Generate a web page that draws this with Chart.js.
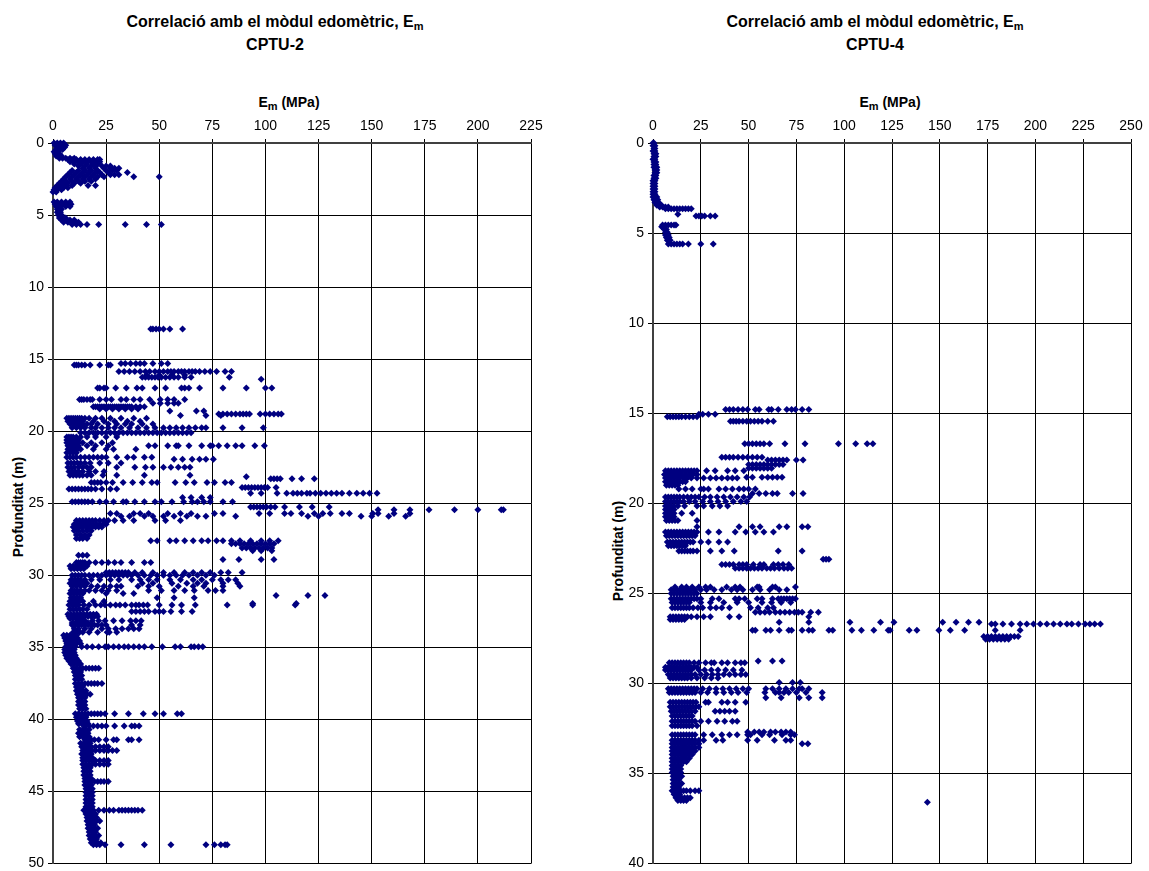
<!DOCTYPE html>
<html>
<head>
<meta charset="utf-8">
<script src="https://cdn.jsdelivr.net/npm/chart.js@4.4.0/dist/chart.umd.min.js"></script>
<style>
  body { margin: 0; background: #fff; width: 1149px; height: 871px; position: relative; overflow: hidden; }
  .narrow { font-family: 'Liberation Sans Narrow', 'Arial Narrow', 'Liberation Sans', sans-serif; font-weight: bold; color: #000; position: absolute; white-space: nowrap; }
  .ttl { top: 11px; width: 400px; text-align: center; font-size: 16px; line-height: 21px; }
  .xt { top: 94px; width: 200px; text-align: center; font-size: 14px; line-height: 16px; }
  .yt { width: 200px; text-align: center; font-size: 14px; line-height: 16px; transform: rotate(-90deg); }
  .sub { font-size: 11px; position: relative; top: 3px; }
  canvas { position: absolute; top: 0; }
</style>
</head>
<body>
<div class="narrow ttl" style="left:75px">Correlació amb el mòdul edomètric, E<span class="sub">m</span><br>CPTU-2</div>
<div class="narrow xt" style="left:189px">E<span class="sub">m</span> (MPa)</div>
<div class="narrow yt" style="left:-82px; top:499px">Profunditat (m)</div>
<canvas id="cptu2" width="575" height="876" style="left:0"></canvas>

<div class="narrow ttl" style="left:675px">Correlació amb el mòdul edomètric, E<span class="sub">m</span><br>CPTU-4</div>
<div class="narrow xt" style="left:790px">E<span class="sub">m</span> (MPa)</div>
<div class="narrow yt" style="left:518px; top:543px">Profunditat (m)</div>
<canvas id="cptu4" width="549" height="876" style="left:600px"></canvas>

<script>
// each row: depth (m) followed by the Em values (MPa) read at that depth
const cptu2Rows = [
  [0.0, 0.5, 2, 3.5, 5], [0.15, 1, 3, 5, 6], [0.3, 2, 4, 5.5], [0.45, 1.5, 3, 4.5],
  [0.6, 0.5, 1.5, 2.5], [0.75, 1, 2, 3], [0.9, 1.5, 2.5, 4], [1.05, 3, 4.5, 6, 8, 10],
  [1.15, 7, 9, 11, 13, 15, 17, 19, 21, 22], [1.3, 8, 10, 12, 14, 16, 18, 20, 22],
  [1.45, 10, 13, 16, 19, 21], [1.6, 12, 15, 18, 20, 23, 25, 27], [1.75, 14, 17, 20, 24, 27, 29, 31],
  [1.9, 9, 12, 15, 18, 21, 25, 28, 30], [2.05, 8, 11, 14, 17, 20, 22, 26, 35],
  [2.2, 7, 10, 13, 16, 19, 23, 27, 29, 31], [2.35, 6, 9, 12, 15, 18, 21, 24, 38, 50],
  [2.5, 5, 8, 11, 14, 17, 20], [2.65, 4, 6, 9, 12, 15, 18], [2.8, 3, 5, 7, 10, 13],
  [2.95, 2, 4, 6, 9, 16.5, 20], [3.1, 1, 3, 5, 7], [3.25, 0.5, 2, 4], [3.4, 0, 1.5],
  [4.1, 0.5, 2, 4, 6, 8], [4.25, 1, 3, 5, 7, 8.5], [4.4, 1.5, 3.5, 6, 8], [4.6, 2, 3, 4],
  [4.8, 2, 3.5], [5.0, 2.5, 4], [5.2, 3, 4.5, 6], [5.35, 4, 6, 8, 10], [5.5, 5, 7, 9, 11, 12],
  [5.65, 9, 11, 13, 16, 21.5, 34, 44, 51],
  [12.9, 46, 47, 48.5, 50, 52, 55, 61],
  [15.3, 32, 34, 36.5, 39, 41, 43, 47, 51, 54],
  [15.4, 10, 11, 12, 13.5, 15, 17.5, 22, 26, 27],
  [15.85, 31, 33.5, 36, 38.5, 41, 43.5, 45.5, 48, 50, 52, 54, 55.5, 57, 59, 60.5, 62, 64, 65.5, 67, 69, 71.5, 74, 77, 81, 84],
  [16.1, 44, 50, 56, 62],
  [16.25, 42, 43.5, 45, 46.5, 48, 49.5, 51, 53, 55, 57, 59, 62, 65, 83],
  [16.4, 98],
  [17.0, 21, 22, 24, 25, 29.5, 34.5, 39.5, 42, 48, 53, 60.5, 62, 64, 69, 80, 91, 100, 103],
  [17.8, 12.5, 13.5, 14.5, 16, 17.5, 18.5, 22, 25, 27.5, 32, 34.5, 38, 41, 45.5, 50.5, 54, 57, 62],
  [18.05, 47, 50.5, 54, 57, 59],
  [18.3, 19, 20, 21, 22, 23, 24, 25, 26, 27, 28, 29, 30, 31, 32, 33, 34, 35, 36, 37, 39, 41, 43],
  [18.45, 22, 25, 28, 31, 34, 37, 40],
  [18.6, 55, 67.5, 71],
  [18.8, 78, 80, 82, 84, 86, 88, 89.5, 91, 92.5, 97.5, 100, 102, 104, 106, 107.5],
  [18.9, 60, 72, 79],
  [19.1, 6.5, 7.5, 8.5, 9.5, 10.5, 11.5, 12.5, 13.5, 15, 17, 20, 23, 27, 32, 38, 44],
  [19.3, 7, 8, 9, 10, 11, 12, 13, 14, 19, 24, 29, 35, 41],
  [19.5, 8, 10, 12, 14, 16, 18, 21, 26, 30, 34, 37, 42, 47],
  [19.75, 9, 11, 13, 15, 18, 20, 23, 26, 29, 32, 36, 40, 44, 48, 52, 55, 58, 61, 64, 67, 70, 72, 80, 89, 99],
  [20.1, 13, 15, 17, 19, 21, 23, 25, 27, 29, 31, 33, 35, 37, 39, 41, 43, 45, 47, 49, 51, 53, 55, 57, 59, 61, 63, 65],
  [20.4, 6.5, 7.5, 8.5, 9.5, 11, 13, 16, 20, 25, 30],
  [20.6, 6.5, 8, 9.5, 11, 12],
  [20.8, 6.5, 7.5, 9, 10.5, 12, 14, 18, 23, 28],
  [21.0, 7, 8, 9.5, 11, 12, 16, 20, 26, 45, 48, 54, 58, 59, 64, 70, 74, 75, 78, 82, 86, 89, 95, 99.5],
  [21.25, 7, 8.5, 10, 11.5, 13, 19, 25, 28.5, 39],
  [21.5, 6.5, 8, 9.5, 11],
  [21.8, 6.5, 8, 9.5, 11, 13, 15, 17, 19, 21, 23, 25, 30, 35, 38, 43, 46.5],
  [21.95, 57, 61, 65.5, 69, 72, 75.5],
  [22.2, 7, 8.5, 10, 11.5, 13, 15, 17.5, 22, 26, 32],
  [22.5, 7, 8.5, 10, 12, 14, 16, 18, 30, 38.5, 43.5, 47, 52, 55.5, 59, 62, 64.5],
  [22.8, 7.5, 9, 10.5, 12, 14, 17, 20, 24],
  [23.05, 8, 9.5, 11, 12.5, 14, 16, 18, 23.5, 30, 43, 64.5],
  [23.15, 91],
  [23.3, 102.5, 104, 105.5, 107, 112.5, 117, 123],
  [23.55, 18, 19.5, 21, 22.5, 25, 28, 33, 37.5, 42, 46.5, 49, 57.5, 62.5, 66.5, 72.5, 76, 81, 84],
  [23.9, 89, 90.5, 92, 93.5, 95, 96.5, 98, 99.5, 101, 105],
  [24.0, 7.5, 9, 10.5, 12, 13.5, 15, 16.5, 18, 20, 23, 27, 30],
  [24.3, 93, 98, 105.5, 110, 113, 115, 117, 119.5, 121, 123.5, 126, 128.5, 131, 133.5, 136, 139.5, 143, 146, 149, 152.5],
  [24.6, 61, 65, 70, 74],
  [24.9, 9, 10.5, 12, 13.5, 15, 16.5, 18.5, 22, 25, 28.5, 33, 34.5, 38.5, 43, 48, 51, 56, 61.5, 65.5, 68, 71, 74, 80, 84.5],
  [25.25, 93, 94.5, 96, 97.5, 99, 100.5, 102.5, 104.5, 109, 116, 122, 130],
  [25.45, 153, 160.5, 168, 177, 189, 200, 211, 212],
  [25.7, 27, 30, 38, 41, 45, 54, 60, 65, 76, 80, 97, 102, 109, 112, 117, 123, 127, 130.5, 136, 139.5, 150.5, 153, 160.5, 168],
  [25.9, 32, 36, 43, 47, 52, 57, 63, 68, 72, 86, 120, 125, 145, 150, 158, 166],
  [26.2, 11, 12.5, 14, 15.5, 17, 18.5, 20, 22, 24, 26, 29, 33, 38, 48, 53, 60],
  [26.45, 10, 11.5, 13, 14.5, 16, 17.5, 19, 20.5, 22, 23.5, 25],
  [26.65, 9.5, 11, 12.5, 14, 15.5, 17, 18.5, 20, 21.5, 23],
  [26.9, 10, 12, 14, 16, 18], [27.2, 11, 13, 15, 17], [27.45, 11, 12.5, 14, 16],
  [27.6, 46, 49, 55, 58, 62, 66, 70, 73, 77, 80, 84, 88, 93, 98, 102, 106],
  [27.8, 84, 86, 88, 90, 92, 94, 96, 98, 100, 102, 104],
  [28.1, 89, 91, 93, 95, 97, 99, 101, 103],
  [28.3, 94, 98, 103], [28.6, 12, 14, 16], [28.9, 80, 87.5, 98, 104],
  [29.1, 11, 12, 13, 14, 15, 17, 20, 23, 26, 29, 32, 37, 43, 46],
  [29.35, 8, 9.5, 11, 12.5, 14, 16], [29.55, 8.5, 10, 11.5, 13, 14.5],
  [29.8, 25, 26.5, 28, 29.5, 31, 32.5, 34, 35.5, 38.5, 42, 47, 52, 57, 62, 66, 70, 74, 79, 82.5, 89],
  [30.0, 9, 10.5, 12, 13.5, 15, 17, 19, 21, 23, 25, 27, 29, 31, 33, 35, 37, 40, 43, 46, 49, 52, 55, 58, 61, 64, 68, 72, 76],
  [30.3, 8.5, 10, 11.5, 13, 15, 18, 22, 27, 31, 37, 41, 45, 49, 55, 60, 66, 70, 75, 79, 82.5, 86],
  [30.55, 8, 9.5, 11, 12.5, 14, 16, 42, 47, 56, 63, 68, 72, 80, 87],
  [30.75, 9, 11, 13, 15, 18, 21, 24, 27, 30, 32, 40, 45, 50, 59, 66, 71, 80, 88],
  [31.05, 8.5, 10, 11.5, 13, 15, 17, 20, 23, 26, 30, 45, 51, 57, 62, 66.5, 73, 76.5, 80],
  [31.25, 8, 9.5, 11, 12.5, 14, 25, 33, 38],
  [31.4, 105, 120, 128],
  [31.55, 8.5, 10, 11.5, 13, 49, 57, 66.5],
  [31.8, 8, 9.5, 11, 12.5, 14, 19, 24],
  [31.95, 94, 114.5],
  [32.05, 7.5, 9, 10.5, 12, 14.5, 17, 20, 22.5, 24.5, 27, 29.5, 31.5, 34, 37, 39, 40.5, 42.5, 44.5, 50, 56, 60.5, 67, 82, 94, 114],
  [32.35, 8, 9.5, 11, 12.5, 14, 16],
  [32.5, 37, 39, 41, 43, 45, 48, 50, 52, 55.5, 60.5, 65.5],
  [32.7, 7, 8.5, 10, 11.5, 13, 14.5, 16, 17.5, 19, 20.5],
  [32.85, 7.5, 9, 10.5, 12, 13.5, 15, 16.5, 18, 19.5, 21],
  [33.0, 8, 9.5, 11, 12.5, 14],
  [33.15, 12, 15, 18.5, 21.5, 24.5, 28.5, 32.5, 36.5, 39, 41.5],
  [33.3, 9, 10.5, 12, 13.5, 15, 16.5],
  [33.45, 9, 10.5, 12, 13.5, 15, 16.5, 18, 19.5, 21, 23, 25, 37, 41],
  [33.7, 10, 12, 15, 18, 23, 26, 29.5, 32.5, 35.5, 38, 40.5],
  [33.95, 9.5, 11, 12.5, 14, 17, 21, 25.5, 26.5, 30],
  [34.15, 5, 6.5, 8, 9.5, 11], [34.35, 5.5, 7, 8.5, 10, 11.5], [34.55, 6, 7.5, 9, 10.5, 12.5],
  [34.75, 6.5, 8, 9.5, 11, 13],
  [34.95, 6, 8, 10.5, 13.5, 16, 18.5, 21.5, 24.5, 26, 28.5, 31, 33.5, 35.5, 38, 40.5, 43, 46.5, 51.5, 57.5, 60, 65, 66.5, 68.5, 70.5],
  [35.15, 5.5, 7, 8.5, 10], [35.35, 5.5, 7, 8.5, 10], [35.55, 6, 7.5, 9, 10.5],
  [35.75, 6.5, 8, 9.5, 11], [35.95, 7.5, 9, 10.5, 12], [36.15, 8.5, 10, 11.5, 13],
  [36.45, 9.5, 11, 12.5, 14, 15.5, 17, 18.5, 20, 21.5],
  [36.7, 10, 11.5, 13], [36.95, 10.5, 12, 13.5], [37.2, 10.5, 12, 13.5],
  [37.5, 10.5, 12, 13.5, 15, 16.5, 18, 19.5, 21, 23],
  [37.75, 11, 12.5, 14], [38.0, 11, 12.5, 14, 15.5], [38.25, 11.5, 13, 14.5, 16, 17.5],
  [38.5, 12, 13.5, 15], [38.75, 12, 13.5, 15], [39.0, 12, 13.5, 15], [39.25, 12.5, 14, 15.5],
  [39.6, 10.5, 12, 13.5, 15, 16.5, 18, 19.5, 21, 22.5, 24.5, 29, 35.5, 42.5, 48, 52, 58.5, 60.5],
  [39.85, 11, 12.5, 14, 15.5], [40.1, 11.5, 13, 14.5, 16], [40.3, 12, 13.5, 15, 16.5],
  [40.45, 15, 17, 19, 21, 23, 25, 29, 33.5, 37, 38.5, 40.5],
  [40.7, 12.5, 14, 15.5, 17], [40.95, 12, 13.5, 15, 16.5], [41.2, 12.5, 14, 15.5, 17],
  [41.4, 15, 16.5, 18, 19.5, 21.5, 25, 28.5, 30, 35.5, 37, 40.5],
  [41.65, 13, 14.5, 16, 17.5], [41.9, 13.5, 15, 16.5, 18, 20, 22, 24, 26],
  [42.15, 14, 15.5, 17, 18.5, 20, 22, 24, 26, 28, 30],
  [42.4, 13.5, 15, 16.5, 18], [42.65, 14, 15.5, 17, 18.5],
  [42.85, 14, 15.5, 17, 18.5, 20, 22, 24, 26], [43.1, 14, 15.5, 17, 18.5, 20, 22, 24, 26],
  [43.35, 14.5, 16, 17.5], [43.6, 14.5, 16, 17.5], [43.85, 14.5, 16, 17.5], [44.1, 15, 16.5, 18],
  [44.3, 15, 16.5, 18, 19.5, 21, 22.5, 24, 26],
  [44.55, 15, 16.5, 18], [44.8, 15.5, 17, 18.5], [45.05, 15.5, 17, 18.5], [45.3, 15.5, 17, 18.5],
  [45.55, 15.5, 17, 18.5], [45.8, 15.5, 17, 18.5], [46.05, 15.5, 17, 18.5],
  [46.3, 14.5, 16, 17.5, 19, 21.5, 24, 26.5, 28.5, 31, 32.5, 34, 35.5, 37, 38.5, 40, 42],
  [46.55, 15.5, 17, 18.5, 20], [46.8, 16, 17.5, 19, 20.5], [47.05, 16, 17.5, 19, 20.5, 22],
  [47.3, 16.5, 18, 19.5], [47.55, 16.5, 18, 19.5, 21], [47.8, 17, 18.5, 20],
  [48.05, 17, 18.5, 20, 21.5], [48.3, 17.5, 19, 20.5], [48.55, 18, 19.5, 21, 22.5],
  [48.7, 19, 20.5, 22, 24.5, 32, 43, 55.5, 72, 76, 79, 81, 82]
];

const cptu4Rows = [
  [0.0, 0, 0.5], [0.15, 0, 1], [0.3, 0.5, 1], [0.45, 0, 1], [0.6, 0.5, 1.5], [0.75, 0.5, 1.5],
  [0.9, 0, 1], [1.05, 0.5, 1.5], [1.2, 0.5, 1.5], [1.35, 0.5, 1.5, 2], [1.5, 1, 2], [1.65, 1, 2],
  [1.8, 0.5, 1.5], [1.95, 0.5, 1.5], [2.1, 0, 1], [2.25, 0, 1], [2.4, 0, 1], [2.55, 0, 1],
  [2.7, 0, 1], [2.85, 0, 1], [3.0, 0, 1, 2], [3.15, 0.5, 1.5, 2.5], [3.3, 1, 2, 3],
  [3.45, 2, 3, 4.5], [3.55, 3.5, 5, 6.5, 8],
  [3.65, 6.5, 8, 9.5, 11, 12.5, 14, 15.5, 17, 18.5, 20],
  [3.95, 13], [4.05, 22.5, 24, 25.5, 27, 30, 32.5],
  [4.55, 5, 6.5, 8, 9.5, 11, 12], [4.65, 4.5, 6], [4.8, 6, 7], [4.95, 6.5, 7.5],
  [5.1, 6.5, 8], [5.25, 7, 8.5], [5.4, 7.5, 9],
  [5.6, 8, 9.5, 11, 12.5, 14, 15.5, 18.5, 25, 31.5],
  [14.8, 38, 40, 42, 44.5, 47, 49.5, 53.5, 55.5, 60.5, 62, 65.5, 70, 72.5, 74.5, 78, 81.5],
  [15.05, 24, 26, 29, 32.5],
  [15.2, 7.5, 9, 10.5, 12, 13.5, 15, 17, 19, 21, 23],
  [15.45, 40.5, 42, 43.5, 45, 47, 49, 51, 53, 55, 57, 60, 63],
  [16.7, 48, 50, 52, 54, 56, 58, 61, 69, 79.5, 97, 106, 112, 115],
  [17.45, 36, 38, 40, 42, 44.5, 47, 49.5, 52, 54.5, 57],
  [17.6, 60, 62, 64, 66, 68, 70, 75, 78.5],
  [17.85, 50, 52, 54, 56, 58, 60, 62, 64, 66, 68],
  [18.05, 50, 52, 54, 56, 58, 60, 62],
  [18.2, 6.5, 8, 9.5, 11, 12.5, 14, 15.5, 17, 18.5, 20, 21.5, 23, 28, 32.5, 39, 43, 47.5],
  [18.4, 6, 7.5, 9, 10.5, 12, 13.5, 15, 17, 19, 21, 23],
  [18.55, 49, 52, 57, 60, 62.5, 65, 67.5],
  [18.6, 6.5, 8, 9.5, 11, 12.5, 14, 16, 18, 20, 23, 26.5, 30, 33, 36, 39, 41.5, 44],
  [18.8, 6.5, 8, 9.5, 11, 12.5, 14, 15.5, 17],
  [19.0, 7, 8.5, 10, 11.5, 13],
  [19.2, 13.5, 17, 20.5, 25, 26.5, 29, 34.5, 38, 41.5, 45, 47.5, 50, 53.5],
  [19.45, 52, 55.5, 59, 62.5, 65, 73, 78.5],
  [19.65, 6.5, 8, 9.5, 11, 12.5, 14, 16, 18, 20, 22, 24, 27, 30, 33.5, 37, 40.5, 44, 47.5, 50.5],
  [19.9, 6.5, 8, 9.5, 11, 12.5, 14, 16, 19, 22, 26, 30, 34, 38, 42, 46, 49],
  [20.15, 6.5, 8, 9.5, 11, 13, 16.5, 23, 26.5, 31, 35, 39],
  [20.35, 6.5, 8, 9.5, 11], [20.55, 6.5, 8, 9.5, 11, 15, 20.5], [20.75, 6.5, 8, 9.5, 11],
  [20.95, 7, 8.5, 10, 11.5, 13, 23],
  [21.3, 23, 45, 52, 56, 66, 70, 78, 81],
  [21.6, 6.5, 8, 9.5, 11, 12.5, 14, 15.5, 17, 18.5, 20, 21.5, 23, 29, 34.5, 43, 48.5, 53.5, 58, 63],
  [21.8, 7, 8.5, 10, 11.5, 13, 14.5, 16, 17.5, 19, 20.5, 22],
  [22.15, 7.5, 9, 10.5, 12, 13.5, 15, 16.5, 18, 19.5, 21, 25, 29, 34.5, 39],
  [22.35, 8, 9.5, 11, 12.5, 14, 15.5, 17],
  [22.65, 13.5, 15, 16.5, 18, 19.5, 21, 23, 30, 36, 42.5, 65.5, 78],
  [23.1, 89, 90.5, 92],
  [23.4, 36, 38, 40, 42, 45, 47, 49, 52.5, 56, 58, 63, 65.5, 68, 71],
  [23.6, 43, 45, 47, 49, 51, 53, 55, 57, 59.5, 61.5, 63.5, 66, 68.5, 70.5, 72.5],
  [24.65, 11.5, 15, 17.5, 20.5, 24, 27.5, 30, 38.5, 43, 45.5, 54.5, 55.5, 62.5, 64, 74.5],
  [24.8, 9.5, 11, 12.5, 14, 15.5, 17, 18.5, 20, 22, 25, 28, 32, 36, 41, 44, 47, 52, 56, 61, 66, 70],
  [25.0, 9.5, 11, 12.5, 14, 15.5, 17, 18.5, 20, 21.5, 23],
  [25.3, 9.5, 11, 12.5, 14, 15.5, 17, 18.5, 20, 21.5, 23, 25, 31, 34.5, 43, 45, 48, 54.5, 57, 62.5, 65.5, 67, 68.5, 70, 71.5, 73, 74.5],
  [25.5, 10, 11.5, 13, 14.5, 16, 17.5, 19, 25, 30, 37, 44, 50, 57, 62, 67, 72],
  [25.8, 10, 11.5, 13, 14.5, 16, 17.5, 19, 21, 23.5, 26, 30, 33, 36, 40, 51, 55, 60, 63],
  [26.05, 53.5, 56, 58.5, 61, 64, 66.5, 69, 71.5, 74, 76, 78, 82.5, 86.5],
  [26.3, 9, 10.5, 12, 13.5, 15, 16.5, 18, 20, 23, 26.5, 30, 40, 45, 81.5],
  [26.45, 9, 10.5, 12, 13.5, 15, 16.5],
  [26.6, 66, 81.5, 103, 119, 126, 151.5, 158.5, 165, 170.5],
  [26.7, 177, 179, 183, 187.5, 192, 195.5, 199, 202.5, 206, 209.5, 213, 216.5, 219, 222.5, 226, 228.5, 231, 234],
  [27.05, 52, 53.5, 59, 61.5, 66, 71, 72.5, 78, 81.5, 83.5, 92, 94, 104, 109, 115.5, 123, 124, 134, 138, 149.5, 155.5, 163, 179, 192],
  [27.4, 173, 175, 177, 179, 181, 183, 185, 187, 189, 191],
  [27.55, 174, 176, 178, 180, 182, 184, 186],
  [28.75, 55, 62.5, 67.5],
  [28.85, 8.5, 10, 11.5, 13, 14.5, 16, 17.5, 19, 21.5, 24, 27.5, 30.5, 32, 36, 39, 43, 46, 48],
  [29.1, 6.5, 8, 9.5, 11, 12.5, 14, 15.5, 17, 18.5, 20, 21.5, 23],
  [29.25, 6.5, 8, 9.5, 11, 12.5, 14, 15.5, 17, 18.5, 20, 24, 27, 30.5, 34, 38, 42, 46.5],
  [29.5, 8, 9.5, 11, 12.5, 14, 15.5, 17, 18.5, 20, 22, 25, 28, 31, 34, 37, 40, 43, 46, 48.5],
  [29.7, 9, 10.5, 12, 13.5, 15, 16.5, 18, 20, 23, 27, 30.5, 34],
  [29.95, 66, 73, 77],
  [30.3, 8, 9.5, 11, 12.5, 14, 15.5, 17, 18.5, 20, 21.5, 23, 26, 29.5, 33, 36.5, 40, 43.5, 47, 50, 59, 62.5, 66, 69.5, 73, 76.5, 78, 81.5],
  [30.5, 8.5, 10, 11.5, 13, 14.5, 16, 17.5, 19, 20.5, 22, 25, 28.5, 33, 37, 41, 44.5, 49, 58.5, 64, 66, 68.5, 71, 75, 80, 88.5],
  [30.8, 59, 67, 76.5, 81.5, 88.5],
  [31.05, 9, 10.5, 12, 13.5, 15, 16.5, 18, 19.5, 21, 22.5, 27.5, 29, 36, 39, 43, 48.5],
  [31.3, 9, 10.5, 12, 13.5, 15, 16.5, 18, 19.5, 21, 22.5, 24],
  [31.55, 9.5, 11, 12.5, 14, 15.5, 17, 18.5, 20, 22, 32.5, 35, 37.5, 40, 43],
  [31.8, 10, 11.5, 13, 14.5, 16, 17.5, 19, 20.5],
  [32.1, 10, 11.5, 13, 14.5, 16, 17.5, 19, 20.5, 22, 25, 29, 33.5, 37.5, 41.5, 44],
  [32.35, 10, 11.5, 13, 14.5, 16, 17.5, 19, 20.5, 23],
  [32.7, 49.5, 53, 55.5, 58, 61.5, 64, 67, 69.5, 72],
  [32.85, 10, 11.5, 13, 14.5, 16, 17.5, 19, 20.5, 22, 26.5, 31, 36, 40, 44, 49.5, 51, 57, 61, 67.5, 72, 74],
  [33.15, 10, 11.5, 13, 14.5, 16, 17.5, 19, 20.5, 22, 24, 26.5, 33, 36.5, 49.5, 54.5, 63.5, 69.5, 72],
  [33.35, 10, 11.5, 13, 14.5, 16, 17.5, 19, 20.5, 22, 24, 78, 81],
  [33.55, 10, 11.5, 13, 14.5, 16, 17.5, 19, 20.5, 22, 24],
  [33.75, 10, 11.5, 13, 14.5, 16, 17.5, 19, 20.5, 22],
  [33.95, 10, 11.5, 13, 14.5, 16, 17.5, 19, 20.5],
  [34.15, 10, 11.5, 13, 14.5, 16, 17.5, 19], [34.35, 10, 11.5, 13, 14.5, 16, 17.5],
  [34.55, 10, 11.5, 13, 14.5], [34.75, 10, 11.5, 13, 14.5], [34.95, 10, 11.5, 13, 14.5],
  [35.15, 10.5, 12, 13.5, 15], [35.35, 10.5, 12, 13.5], [35.55, 10.5, 12, 13.5, 15], [35.75, 10.5, 12, 13.5],
  [35.95, 10, 11.5, 13, 14.5, 16, 17.5, 19.5, 22, 24],
  [36.15, 11, 12.5, 14], [36.35, 12, 13.5, 15, 16.5, 18, 19.5], [36.5, 13, 14.5, 16, 17.5],
  [36.6, 143.5]
];

// axis ranges: [Em max, depth max]
const cptu2Range = [225, 50];
const cptu4Range = [250, 40];

const FONT = "'Liberation Sans Narrow', 'Arial Narrow', 'Liberation Sans', sans-serif";

function toPoints(rows) {
  const pts = [];
  rows.forEach(r => {
    for (let k = 1; k < r.length; k++) pts.push({ x: r[k], y: r[0] });
  });
  return pts;
}

function drawProfile(id, rows, range, padRight) {
  new Chart(document.getElementById(id), {
    type: 'scatter',
    data: {
      datasets: [{
        data: toPoints(rows),
        pointStyle: 'rectRot',
        pointRadius: 3.5,
        pointHoverRadius: 3.5,
        backgroundColor: '#000080',
        borderColor: '#000080',
        borderWidth: 0,
        clip: false
      }]
    },
    options: {
      responsive: false,
      animation: false,
      events: [],
      layout: { padding: { left: 0, right: padRight, top: 0, bottom: 3 } },
      plugins: { legend: { display: false }, tooltip: { enabled: false } },
      scales: {
        x: {
          type: 'linear', position: 'top', min: 0, max: range[0],
          ticks: { stepSize: 25, color: '#000', padding: 4, font: { family: FONT, size: 14 } },
          grid: { color: '#000', lineWidth: 1, tickLength: 4 },
          border: { color: '#404040', width: 2 },
          afterFit(s) { s.height = 143; }
        },
        y: {
          type: 'linear', reverse: true, min: 0, max: range[1],
          ticks: { stepSize: 5, color: '#000', padding: 4, font: { family: FONT, size: 14 } },
          grid: { color: '#000', lineWidth: 1, tickLength: 5 },
          border: { color: '#404040', width: 2 },
          afterFit(s) { s.width = 53; }
        }
      }
    }
  });
}

drawProfile('cptu2', cptu2Rows, cptu2Range, 44);
drawProfile('cptu4', cptu4Rows, cptu4Range, 18);
</script>
</body>
</html>
